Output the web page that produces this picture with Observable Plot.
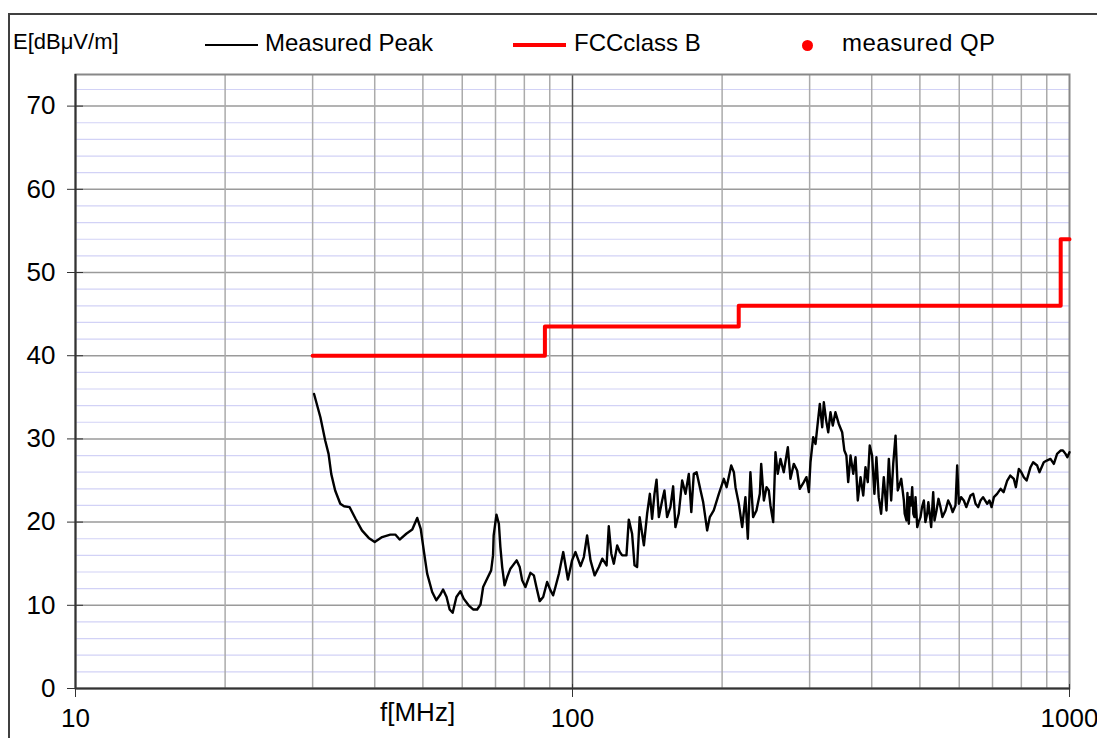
<!DOCTYPE html>
<html>
<head>
<meta charset="utf-8">
<script src="https://cdn.jsdelivr.net/npm/d3@7"></script>
<script src="https://cdn.jsdelivr.net/npm/@observablehq/plot@0.6"></script>
<style>
  html, body { margin: 0; padding: 0; background: #fff; }
  #wrap { position: relative; width: 1097px; height: 738px; overflow: hidden; font-family: "Liberation Sans", Arial, sans-serif; color: #000; }
  #frame { position: absolute; left: 8px; top: 13px; width: 1300px; height: 1000px; border: 2px solid #404040; box-sizing: border-box; }
  #chart { position: absolute; left: 0; top: 0; }
  .lg { position: absolute; white-space: nowrap; line-height: 1; }
</style>
</head>
<body>
<div id="wrap">
  <div id="frame"></div>
  <div id="chart"></div>
  <div class="lg" style="left:13px; top:31px; font-size:22px;">E[dBμV/m]</div>
  <div class="lg" style="left:205px; top:44px; width:53px; height:2px; background:#000;"></div>
  <div class="lg" style="left:265px; top:31px; font-size:24px;">Measured Peak</div>
  <div class="lg" style="left:513px; top:43px; width:53px; height:4px; background:#f00;"></div>
  <div class="lg" style="left:574px; top:31px; font-size:24px;">FCCclass B</div>
  <div class="lg" style="left:802px; top:40px; width:11px; height:11px; border-radius:50%; background:#f00;"></div>
  <div class="lg" style="left:842px; top:31px; font-size:24px; letter-spacing:0.5px;">measured QP</div>
  <div class="lg" style="left:380px; top:699px; font-size:26px;">f[MHz]</div>
</div>
<script>
// ---- data ----
const peakFreq = [30.2,31.1,31.8,32.3,32.7,33.3,34.1,34.7,35.6,36.6,37.7,38.9,40.0,41.4,43.0,44.0,44.9,46.3,47.6,48.7,49.5,50.2,51.0,52.2,53.2,54.1,54.9,55.8,56.6,57.4,58.4,59.5,60.4,61.8,63.1,64.3,65.3,66.1,67.1,68.6,69.2,69.4,70.3,71.1,71.6,72.2,73.0,73.9,75.0,77.2,78.3,79.2,80.4,82.3,83.6,84.6,85.9,87.3,88.9,90.3,91.4,92.4,93.9,95.8,97.9,99.8,101.4,103.8,105.4,107.0,108.7,110.8,113.0,114.8,117.1,118.3,119.7,121.1,123.0,124.5,125.9,128.4,129.8,131.8,133.3,134.9,136.5,139.2,141.3,143.1,144.6,146.2,147.6,149.2,151.5,153.1,155.0,157.4,159.4,161.1,163.6,166.2,168.8,171.4,173.4,175.4,177.7,181.0,183.2,186.6,188.9,192.4,197.0,201.6,204.2,208.6,211.2,212.8,216.1,219.5,222.8,225.3,228.0,230.9,234.5,238.2,239.7,242.7,245.7,248.3,250.2,253.4,256.1,258.8,262.1,266.1,271.2,274.5,278.8,283.1,286.6,292.0,295.6,298.9,301.2,305.0,308.3,311.6,314.5,318.0,320.4,323.9,327.0,330.4,334.0,338.1,343.4,348.8,352.4,355.7,358.7,362.6,367.2,371.1,375.0,379.8,384.6,388.6,392.7,396.3,400.7,405.0,408.8,413.2,417.8,423.0,428.3,433.0,437.7,441.9,446.7,451.3,453.6,458.6,464.2,466,469.9,472,475,477.2,480,482.5,485,487.6,490,493.9,497,501.4,505,509.3,513,517.2,520,526.8,531.8,535,540.0,545,550.1,555,563.0,570,576.3,582,589.7,594.3,598.9,605,612.9,620,632.2,640,647.1,655,662.2,670,683.0,690,697,704.5,715,726.6,737,749.4,760,772.7,780,790.8,800,809.2,820,834.7,845,860.9,870,887.7,900,915.7,930,944.1,959.4,970,981.8,990,1000];
const peakLevel = [35.4,32.6,29.8,28.2,25.8,23.8,22.2,21.9,21.8,20.4,19.0,18.1,17.6,18.2,18.5,18.5,17.9,18.6,19.1,20.5,19.2,16.6,13.8,11.6,10.6,11.2,11.9,11.0,9.5,9.1,11.0,11.7,10.8,10.0,9.5,9.5,10.1,12.2,13.0,14.2,16.0,18.4,20.9,19.8,17.0,14.6,12.4,13.4,14.4,15.4,14.6,13.0,12.2,13.9,13.6,12.2,10.5,11.0,12.8,11.8,11.2,12.2,13.8,16.4,13.1,15.4,16.4,14.7,15.8,18.4,15.4,13.6,14.6,15.6,14.8,19.5,16.2,15.0,17.2,16.4,16.0,16.0,20.3,18.6,14.8,14.6,20.6,17.2,21.0,23.4,20.4,23.4,25.1,20.6,22.6,23.8,20.6,21.8,24.3,19.4,21.0,25.0,23.4,25.8,21.2,25.8,26.0,23.8,22.4,19.0,20.6,21.4,23.4,25.2,24.2,26.8,26.0,24.2,22.2,19.4,23.0,18.0,26.0,20.6,21.4,23.4,27.0,22.6,24.2,23.8,22.0,20.0,28.4,25.8,27.6,26.0,29.0,25.2,27.0,26.2,24.0,24.8,25.4,23.6,27.2,30.2,29.4,32.0,34.2,31.4,34.4,32.2,30.8,33.2,31.6,33.2,31.8,30.8,28.6,28.0,24.8,28.0,25.8,27.8,22.6,25.4,23.2,26.6,24.8,29.2,28.0,23.4,27.8,23.0,21.0,25.4,21.4,27.6,22.6,27.0,30.4,23.8,24.2,25.2,22.6,21.0,20.2,23.5,19.8,23.0,22.0,24.2,21.0,20.6,23.0,19.4,20.0,20.6,21.8,22.6,20.0,21.0,22.4,19.4,23.6,20.2,21.4,22.8,21.8,20.6,21.4,22.6,22.0,21.2,22.0,26.8,22.2,23.0,22.6,21.8,23.2,23.4,22.2,21.8,22.6,23.0,22.2,22.6,21.8,23.0,23.4,24.0,23.6,25.0,25.6,25.2,24.2,26.4,26.0,25.4,25.0,26.6,27.2,26.8,26.0,27.2,27.4,27.6,27.0,28.2,28.6,28.6,28.2,27.8,28.4];
const limitFreq = [30, 88, 88, 216, 216, 960, 960, 1000];
const limitLevel = [40, 40, 43.5, 43.5, 46, 46, 54, 54];
const xMajor = [10, 100, 1000];
const xMinor = [20, 30, 40, 50, 60, 70, 80, 90, 200, 300, 400, 500, 600, 700, 800, 900];
const yMajor = [0, 10, 20, 30, 40, 50, 60, 70];
const yMinor = [2, 4, 6, 8, 12, 14, 16, 18, 22, 24, 26, 28, 32, 34, 36, 38, 42, 44, 46, 48, 52, 54, 56, 58, 62, 64, 66, 68, 72];

const peak = peakFreq.map((f, i) => ({f, v: peakLevel[i]}));
const limit = limitFreq.map((f, i) => ({f, v: limitLevel[i]}));

const chart = Plot.plot({
  width: 1097,
  height: 738,
  marginLeft: 75,
  marginRight: 28,
  marginTop: 74,
  marginBottom: 50,
  style: {background: "transparent", fontFamily: "Liberation Sans, Arial, sans-serif", color: "#000"},
  x: {type: "log", domain: [10, 1000]},
  y: {domain: [0, 73.8]},
  marks: [
    Plot.ruleY(yMinor, {stroke: "#d2d2f6", strokeWidth: 1.2}),
    Plot.ruleY(yMajor.slice(1), {stroke: "#9a9a9a", strokeWidth: 1.5}),
    Plot.ruleX(xMinor, {stroke: "#ababab", strokeWidth: 1.5}),
    Plot.ruleX([100], {stroke: "#555", strokeWidth: 1.5}),
    Plot.frame({stroke: "#888", strokeWidth: 2}),
    Plot.ruleX([10], {stroke: "#333", strokeWidth: 2}),
    Plot.ruleY([0], {stroke: "#333", strokeWidth: 2}),
    Plot.axisY(yMajor, {tickSize: 16, dx: 8, tickPadding: 12, fontSize: 26, label: null, stroke: "#333", tickFormat: d => String(d)}),
    Plot.axisX(xMajor, {tickSize: 13, dy: -4, tickPadding: 11, fontSize: 26, label: null, stroke: "#333", tickFormat: d => String(d)}),
    Plot.line(limit, {x: "f", y: "v", stroke: "#ff0000", strokeWidth: 4}),
    Plot.line(peak, {x: "f", y: "v", stroke: "#000", strokeWidth: 2.4, strokeLinejoin: "round"})
  ]
});
document.getElementById("chart").appendChild(chart);
</script>
</body>
</html>
